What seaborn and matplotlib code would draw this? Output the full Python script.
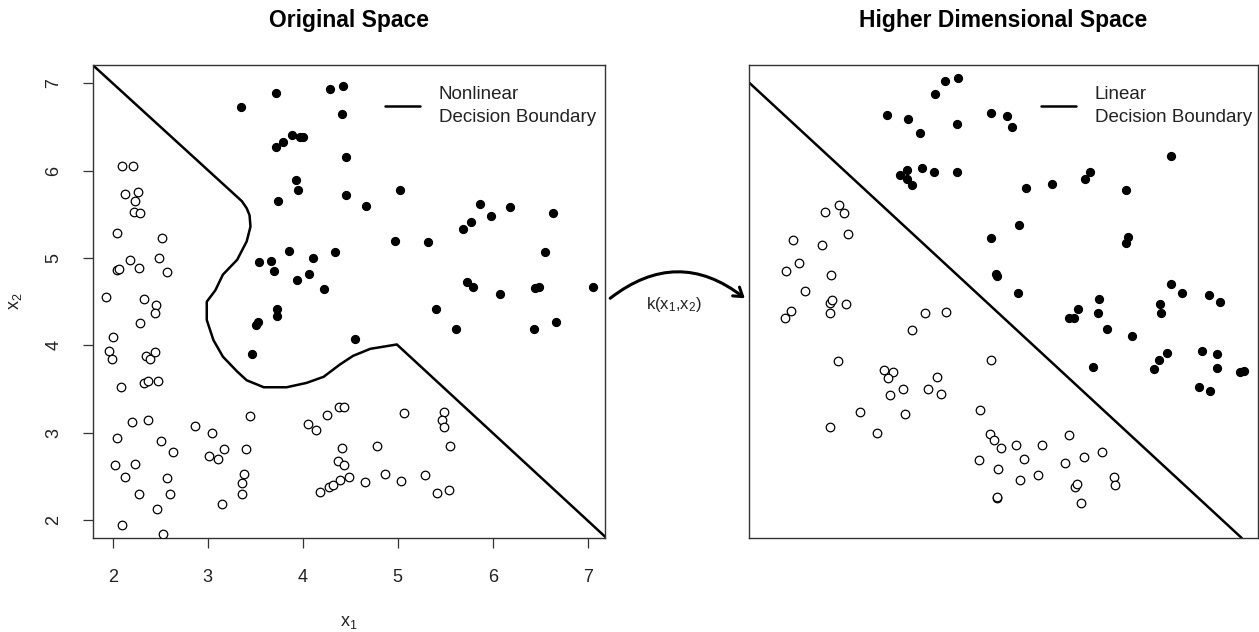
import numpy as np
import pandas as pd
import matplotlib
matplotlib.use("Agg")
import matplotlib.pyplot as plt
import seaborn as sns
from matplotlib.patches import FancyArrowPatch

# ---- Original space (x1, x2) ----
filled_x1 = [3.35, 3.72, 4.29, 4.42, 4.41, 3.89, 3.97, 4.00, 3.79, 3.72, 4.45, 3.93, 3.95, 3.74, 4.46,
             3.85, 4.34, 3.54, 3.67, 4.11, 3.70, 3.94, 4.07, 4.22, 3.73, 3.73, 3.53, 3.51, 3.47, 5.02,
             4.67, 4.97, 5.32, 5.86, 5.98, 6.18, 5.77, 5.69, 6.63, 6.55, 5.73, 5.79, 6.07, 6.44, 6.49,
             7.05, 5.40, 5.61, 4.55, 6.43, 6.66]
filled_x2 = [6.73, 6.89, 6.93, 6.97, 6.65, 6.41, 6.38, 6.39, 6.33, 6.27, 6.16, 5.89, 5.78, 5.65, 5.72,
             5.08, 5.07, 4.95, 4.97, 5.00, 4.85, 4.75, 4.82, 4.65, 4.42, 4.34, 4.27, 4.23, 3.90, 5.78,
             5.59, 5.19, 5.18, 5.62, 5.48, 5.58, 5.41, 5.33, 5.52, 5.07, 4.72, 4.67, 4.59, 4.66, 4.67,
             4.67, 4.42, 4.19, 4.07, 4.19, 4.27]

open_x1 = [2.10, 2.21, 2.13, 2.27, 2.23, 2.22, 2.29, 2.05, 2.52, 2.18, 2.49, 2.05, 2.07, 2.28, 2.57,
           1.93, 2.33, 2.46, 2.45, 2.29, 2.00, 1.96, 1.99, 2.35, 2.39, 2.45, 2.33, 2.37, 2.48, 2.09,
           2.20, 2.37, 2.05, 2.51, 2.63, 2.02, 2.24, 2.13, 2.57, 2.28, 2.60, 2.47, 2.10, 2.53, 2.87,
           3.05, 3.01, 3.11, 3.17, 3.44, 3.40, 3.38, 3.36, 3.36, 3.15, 4.05, 4.14, 4.25, 4.38, 4.43,
           4.41, 4.37, 4.43, 4.39, 4.49, 4.28, 4.32, 4.18, 5.07, 5.49, 5.47, 5.49, 4.78, 5.55, 4.65,
           4.87, 5.03, 5.29, 5.41, 5.54]
open_x2 = [6.05, 6.05, 5.73, 5.76, 5.65, 5.53, 5.52, 5.29, 5.23, 4.98, 5.00, 4.86, 4.87, 4.89, 4.84,
           4.55, 4.53, 4.46, 4.37, 4.26, 4.09, 3.93, 3.84, 3.88, 3.84, 3.92, 3.57, 3.59, 3.59, 3.52,
           3.12, 3.15, 2.94, 2.91, 2.78, 2.63, 2.64, 2.49, 2.48, 2.30, 2.30, 2.13, 1.94, 1.84, 3.08,
           3.00, 2.73, 2.70, 2.81, 3.19, 2.81, 2.53, 2.42, 2.30, 2.18, 3.10, 3.03, 3.20, 3.29, 3.29,
           2.82, 2.68, 2.63, 2.46, 2.49, 2.38, 2.40, 2.32, 3.23, 3.24, 3.15, 3.07, 2.85, 2.85, 2.44,
           2.53, 2.45, 2.52, 2.31, 2.34]

boundary_x1 = [1.79, 3.36, 3.41, 3.44, 3.45, 3.41, 3.31, 3.16, 3.08, 2.99, 2.99, 3.06, 3.16, 3.31,
               3.41, 3.59, 3.83, 4.04, 4.22, 4.39, 4.53, 4.71, 4.99, 7.20]
boundary_x2 = [7.21, 5.65, 5.57, 5.49, 5.36, 5.19, 4.98, 4.81, 4.63, 4.50, 4.29, 4.06, 3.87, 3.70,
               3.60, 3.52, 3.52, 3.57, 3.64, 3.78, 3.88, 3.96, 4.01, 1.79]

# ---- Higher dimensional space (z1, z2) ----
hfilled_z1 = [2.71, 3.12, 3.36, 3.66, 3.85, 4.11, 4.08, 4.75, 2.96, 3.10, 3.10, 3.20, 3.39, 3.64,
              4.08, 4.76, 4.85, 4.87, 5.07, 5.17, 5.45, 5.96, 6.60, 6.69, 7.41, 8.29, 5.31, 7.45,
              7.41, 8.29, 5.29, 6.88, 6.46, 6.29, 6.39, 6.85, 7.04, 7.53, 6.76, 8.08, 8.10, 8.50,
              9.03, 9.25, 8.22, 8.06, 7.95, 8.89, 9.20, 9.20, 9.64, 9.73, 8.84, 9.06]
hfilled_z2 = [8.95, 8.86, 8.57, 9.38, 9.66, 9.73, 8.75, 8.98, 7.68, 7.79, 7.60, 7.46, 7.82, 7.73,
              7.73, 6.34, 5.58, 5.54, 8.92, 8.69, 7.41, 7.48, 7.58, 7.73, 7.35, 8.08, 6.62, 6.37,
              6.24, 5.38, 5.19, 5.06, 4.85, 4.65, 4.65, 4.75, 4.42, 4.27, 3.62, 4.95, 4.75, 5.17,
              5.13, 5.00, 3.92, 3.76, 3.58, 3.95, 3.89, 3.59, 3.50, 3.54, 3.19, 3.11]

hopen_z1 = [1.77, 1.50, 1.86, 1.94, 0.86, 1.43, 0.99, 0.73, 1.62, 1.10, 1.60, 1.63, 1.90, 0.83,
            0.71, 1.60, 3.45, 3.88, 3.20, 1.74, 2.66, 2.82, 2.73, 3.69, 3.03, 3.52, 3.78, 2.77,
            4.75, 2.18, 3.06, 4.54, 1.60, 2.52, 4.74, 4.81, 4.95, 4.52, 4.89, 4.87, 4.88, 5.24,
            5.75, 6.29, 5.40, 5.33, 5.68, 6.20, 6.59, 6.93, 7.18, 7.20, 6.40, 6.44, 6.53]
hopen_z2 = [7.05, 6.90, 6.87, 6.42, 6.29, 6.19, 5.82, 5.64, 5.56, 5.23, 4.97, 5.03, 4.95, 4.80,
            4.65, 4.75, 4.75, 4.77, 4.39, 3.74, 3.56, 3.51, 3.38, 3.40, 3.14, 3.16, 3.05, 3.03,
            3.76, 2.67, 2.62, 2.70, 2.35, 2.22, 2.20, 2.07, 1.90, 1.64, 1.46, 0.84, 0.86, 1.97,
            1.97, 2.17, 1.66, 1.23, 1.34, 1.59, 1.72, 1.82, 1.29, 1.11, 1.08, 1.14, 0.73]

linear_z1 = [0.0, 9.68]
linear_z2 = [9.63, 0.0]

sns.set_style("white")
plt.rcParams['font.family'] = ['Liberation Sans', 'DejaVu Sans']
plt.rcParams['mathtext.fontset'] = 'custom'
plt.rcParams['mathtext.rm'] = 'Liberation Sans'
plt.rcParams['mathtext.it'] = 'Liberation Sans'

fig = plt.figure(figsize=(12.59, 6.32), dpi=100)
ax1 = fig.add_axes([93 / 1259, 94 / 632, 512 / 1259, 473 / 632])
ax2 = fig.add_axes([749 / 1259, 94 / 632, 509 / 1259, 473 / 632])

dot = dict(s=34, color="black", edgecolor="black", linewidth=0.8, zorder=3)
ring = dict(s=38, facecolor="white", edgecolor="black", linewidth=0.9, zorder=3)

# left panel
sns.scatterplot(x=open_x1, y=open_x2, ax=ax1, **ring)
sns.scatterplot(x=filled_x1, y=filled_x2, ax=ax1, **dot)
sns.lineplot(x=boundary_x1, y=boundary_x2, sort=False, estimator=None, ax=ax1,
             color="black", linewidth=1.8, label="Nonlinear\nDecision Boundary")
ax1.set_xlim(1.793, 7.18)
ax1.set_ylim(1.794, 7.21)
ax1.set_xticks([2, 3, 4, 5, 6, 7])
ax1.set_yticks([2, 3, 4, 5, 6, 7])
ax1.set_yticklabels(["2", "3", "4", "5", "6", "7"], rotation=90, va="center")
ax1.tick_params(direction="out", length=7, width=0.9, colors="#333333", labelsize=13, pad=15,
                bottom=True, left=True, labelcolor="#222222")
ax1.set_xlabel(r"x$_1$", fontsize=13, color="#222222")
ax1.xaxis.set_label_coords(0.5, -0.16)
ax1.set_ylabel(r"x$_2$", fontsize=13, color="#222222")
ax1.yaxis.set_label_coords(-0.135, 0.5)
ax1.set_title("Original Space", fontsize=16.5, fontweight="bold", pad=27, color="black")

# right panel
sns.scatterplot(x=hopen_z1, y=hopen_z2, ax=ax2, **ring)
sns.scatterplot(x=hfilled_z1, y=hfilled_z2, ax=ax2, **dot)
sns.lineplot(x=linear_z1, y=linear_z2, sort=False, estimator=None, ax=ax2,
             color="black", linewidth=1.8, label="Linear\nDecision Boundary")
ax2.set_xlim(0, 10)
ax2.set_ylim(0, 10)
ax2.set_xticks([])
ax2.set_yticks([])
ax2.set_xlabel("")
ax2.set_ylabel("")
ax2.set_title("Higher Dimensional Space", fontsize=16.5, fontweight="bold", pad=27, color="black")

for ax, xa in ((ax1, 1.008), (ax2, 1.014)):
    for sp in ax.spines.values():
        sp.set_color("#333333")
        sp.set_linewidth(1.0)
    leg = ax.legend(loc="upper right", bbox_to_anchor=(xa, 0.983), frameon=False, fontsize=13.5,
                    handlelength=1.85, handletextpad=1.0, borderaxespad=0.3, labelspacing=0.3)
    for t in leg.get_texts():
        t.set_color("#222222")
        t.set_linespacing(1.45)

# mapping arrow between the panels
arrow = FancyArrowPatch((608 / 1259, 1 - 300 / 632), (747 / 1259, 1 - 300 / 632),
                        transform=fig.transFigure, connectionstyle="arc3,rad=-0.4",
                        arrowstyle="->,head_length=6,head_width=4", lw=2.2, color="black")
fig.patches.append(arrow)
fig.text(674 / 1259, 1 - 305 / 632, r"k(x$_1$,x$_2$)", ha="center", va="center",
         fontsize=12, color="#222222")

fig.savefig("out.png", dpi=100, facecolor="white")
